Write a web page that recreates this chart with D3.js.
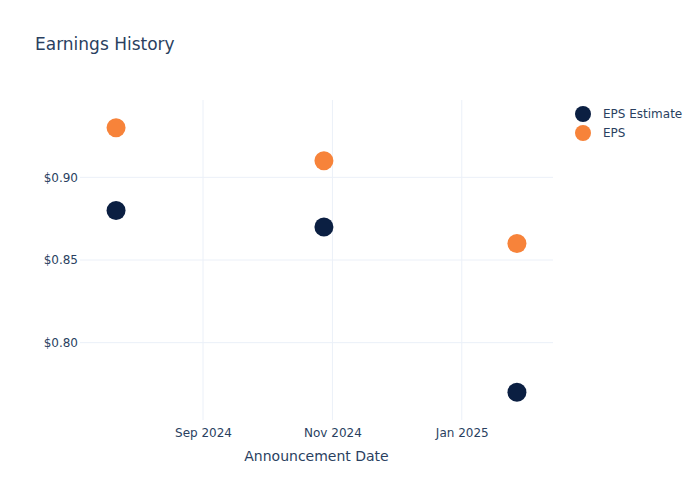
<!DOCTYPE html>
<html>
<head>
<meta charset="utf-8">
<script src="https://cdn.jsdelivr.net/npm/d3@7"></script>
<style>
  body { margin: 0; background: #fff; }
  text { font-family: "DejaVu Sans", "Open Sans", sans-serif; fill: #2a3f5f; }
  .grid line { stroke: #ebf0f8; stroke-width: 1; }
</style>
</head>
<body>
<div id="root"></div>
<script>
// données
const dates = ['2024-07-22', '2024-10-28', '2025-01-27'];
const epsEstimate = [0.88, 0.87, 0.77];
const eps = [0.93, 0.91, 0.86];
const seriesNames = ['EPS Estimate', 'EPS'];
const seriesColors = ['#0b1f42', '#f7833a'];
const yTicks = [0.80, 0.85, 0.90];
const xTicks = ['2024-09-01', '2024-11-01', '2025-01-01'];

const W = 700, H = 500;
const m = { top: 100, right: 147, bottom: 80, left: 80 };
const parse = d3.utcParse('%Y-%m-%d');

const svg = d3.select('#root').append('svg').attr('width', W).attr('height', H);

const x = d3.scaleUtc()
  .domain([parse('2024-07-05'), parse('2025-02-13')])
  .range([m.left, W - m.right]);
const y = d3.scaleLinear()
  .domain([0.7532, 0.9468])
  .range([H - m.bottom, m.top]);

// grilles
const grid = svg.append('g').attr('class', 'grid');
grid.selectAll('.gx').data(xTicks).join('line')
  .attr('x1', d => x(parse(d))).attr('x2', d => x(parse(d)))
  .attr('y1', m.top).attr('y2', H - m.bottom);
grid.selectAll('.gy').data(yTicks).join('line')
  .attr('x1', m.left).attr('x2', W - m.right)
  .attr('y1', d => y(d)).attr('y2', d => y(d));

// axes
const xAxis = d3.axisBottom(x)
  .tickValues(xTicks.map(parse))
  .tickFormat(d3.utcFormat('%b %Y'))
  .tickSize(0).tickPadding(8);
svg.append('g').attr('transform', `translate(0,${H - m.bottom})`).call(xAxis)
  .call(g => g.select('.domain').remove())
  .call(g => g.selectAll('text').attr('font-size', 12).attr('font-family', 'DejaVu Sans').attr('fill', '#2a3f5f'));

const yAxis = d3.axisLeft(y)
  .tickValues(yTicks)
  .tickFormat(d => '$' + d.toFixed(2))
  .tickSize(0).tickPadding(2);
svg.append('g').attr('transform', `translate(${m.left},0)`).call(yAxis)
  .call(g => g.select('.domain').remove())
  .call(g => g.selectAll('text').attr('font-size', 12).attr('font-family', 'DejaVu Sans').attr('fill', '#2a3f5f'));

// points
[epsEstimate, eps].forEach((vals, k) => {
  svg.append('g').selectAll('circle').data(vals).join('circle')
    .attr('cx', (d, i) => x(parse(dates[i])))
    .attr('cy', d => y(d))
    .attr('r', 9.5)
    .attr('fill', seriesColors[k]);
});

// titres
svg.append('text').attr('x', 35).attr('y', 50)
  .attr('font-size', 17).text('Earnings History');
svg.append('text').attr('x', (m.left + W - m.right) / 2).attr('y', 461)
  .attr('text-anchor', 'middle').attr('font-size', 14).text('Announcement Date');

// légende
const leg = svg.append('g');
seriesNames.forEach((n, i) => {
  leg.append('circle').attr('cx', 583).attr('cy', 114 + i * 19).attr('r', 8)
    .attr('fill', seriesColors[i]);
  leg.append('text').attr('x', 603).attr('y', 114 + i * 19).attr('dy', '0.35em')
    .attr('font-size', 12).text(n);
});
</script>
</body>
</html>
